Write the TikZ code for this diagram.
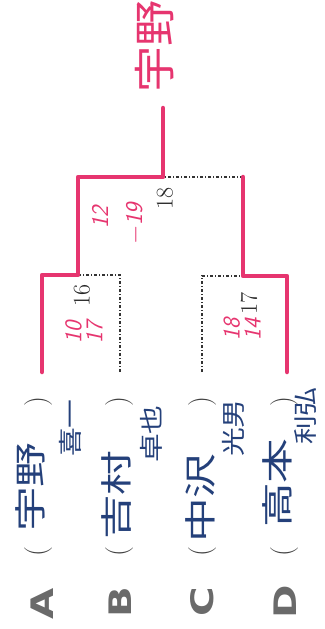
\documentclass[tikz,border=0pt]{standalone}
\usepackage{fontspec}
\usepackage{xcolor}
\usepackage{tikz}
\usetikzlibrary{positioning,calc}
\newfontfamily\jpfont{Noto Sans CJK JP}
\newfontfamily\letrafont{DejaVu Sans}
\definecolor{rosa}{HTML}{E6356F}
\definecolor{azul}{HTML}{24407A}
\definecolor{cinza}{HTML}{6A6A6A}
\tikzset{
    chave/.style={line width=1.1pt, dash pattern=on 3pt off 2pt on 1pt off 2pt, black!80},
    vencedor/.style={line width=4.5pt, rosa, line cap=round, line join=round},
    letra/.style={rotate=90, xscale=1.3, text=cinza, inner sep=0pt,
        font=\letrafont\bfseries\fontsize{31}{31}\selectfont},
    parentese/.style={rotate=90, text=black!75, inner sep=0pt,
        font=\fontsize{28}{28}\selectfont},
    nome/.style={rotate=90, xscale=1.4, text=azul, inner sep=0pt,
        font=\jpfont\fontsize{32}{32}\selectfont},
    apelido/.style={rotate=90, xscale=1.2, text=azul, inner sep=0pt,
        font=\jpfont\fontsize{24}{24}\selectfont},
    placar/.style={rotate=90, text=black!85, inner sep=0pt,
        font=\fontsize{24}{24}\selectfont},
    anotacao/.style={rotate=90, text=rosa, align=center, inner sep=0pt,
        font=\sffamily\itshape\fontsize{24}{21}\selectfont},
    campeao/.style={rotate=90, xscale=1.1, text=rosa, inner sep=0pt,
        font=\jpfont\fontsize{42}{42}\selectfont}
}

\begin{document}
\begin{tikzpicture}[x=1pt, y=-1pt]
    \useasboundingbox (0,0) rectangle (324,629);

    % pontos da chave
    \coordinate (a) at (42,372);
    \coordinate (b) at (120,372);
    \coordinate (c) at (202,372);
    \coordinate (d) at (287,372);
    \coordinate (ab) at (78,275);
    \coordinate (cd) at (243,276);
    \coordinate (cdtopo) at (243,177);
    \coordinate (topo) at (163,177);
    \coordinate (final) at (163,108);

    \draw[chave] (b) |- (ab);
    \draw[chave] (c) |- (cd);
    \draw[chave] (cdtopo) -- (topo);
    \draw[vencedor] (a) |- (ab) |- (topo) -- (final);
    \draw[vencedor] (d) |- (cd) -- (cdtopo);

    % letras
    \node[letra] (letraA) at (42,604) {A};
    \node[letra] (letraB) at (120,602) {B};
    \node[letra] (letraC) at (202,602) {C};
    \node[letra] (letraD) at (285,602) {D};

    % parenteses
    \node[parentese] (abreA) at (39,552) {(};
    \node[parentese] (fechaA) at (39,402) {)};
    \node[parentese] (abreB) at (120,552) {(};
    \node[parentese] (fechaB) at (120,402) {)};
    \node[parentese] (abreC) at (203,552) {(};
    \node[parentese] (fechaC) at (203,402) {)};
    \node[parentese] (abreD) at (285,552) {(};
    \node[parentese] (fechaD) at (285,402) {)};

    % nomes
    \node[nome] (nomeA) at (30,487) {宇野};
    \node[apelido] (apelidoA) at (70,428) {喜一};
    \node[nome] (nomeB) at (116,495) {吉村};
    \node[apelido] (apelidoB) at (151,434) {卓也};
    \node[nome] (nomeC) at (200,498) {中沢};
    \node[apelido] (apelidoC) at (233,428) {光男};
    \node[nome] (nomeD) at (277,483) {高本};
    \node[apelido] (apelidoD) at (306,416) {利弘};

    % placares
    \node[placar] (p16) at (82,295) {16};
    \node[placar] (p17) at (249,303) {17};
    \node[placar] (p18) at (165,198) {18};
    \node[anotacao] (jogo1) at (84,332) {10\\17};
    \node[anotacao] (jogo2) at (242,329) {18\\14};
    \node[anotacao] (jogo3a) at (100,217) {12};
    \node[anotacao] (jogo3b) at (135,224) {$-$19};

    \node[campeao] (vencedorNome) at (155,46) {宇野};
\end{tikzpicture}
\end{document}
